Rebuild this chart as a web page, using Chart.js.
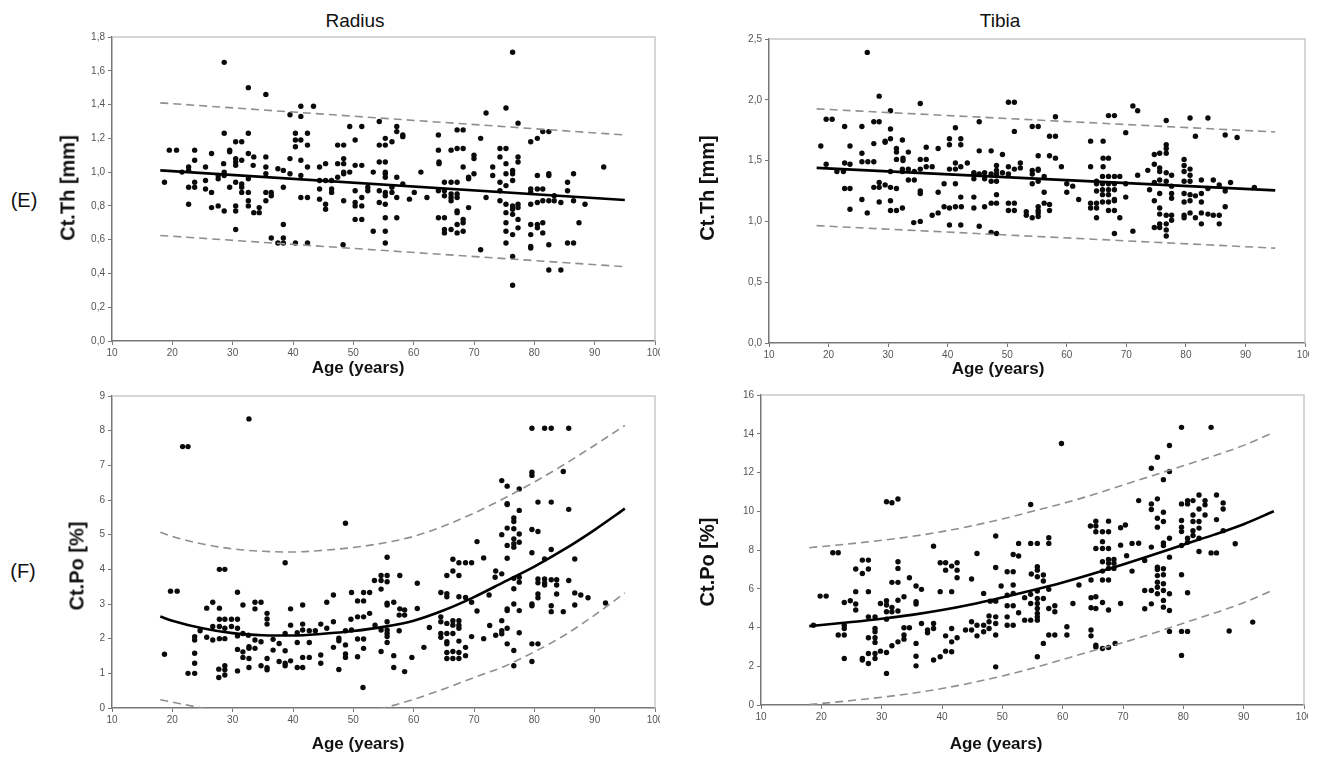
<!DOCTYPE html>
<html>
<head>
<meta charset="utf-8">
<script src="https://cdn.jsdelivr.net/npm/chart.js@4.4.0/dist/chart.umd.min.js"></script>
<style>
  html, body { margin: 0; padding: 0; background: #fff; }
  body { width: 1320px; height: 758px; position: relative; overflow: hidden;
         font-family: "Liberation Sans", Arial, sans-serif; color: #111; }
  canvas { position: absolute; }
  .lbl { position: absolute; white-space: nowrap; transform: translate(-50%, -50%); }
  .ptitle { font-size: 19px; }
  .row { font-size: 20px; }
  .xt { font-size: 17px; font-weight: bold; }
  .yt { font-size: 20px; font-weight: bold; transform: translate(-50%, -50%) rotate(-90deg); }
</style>
</head>
<body>
<div class="lbl ptitle" style="left:355px; top:21px;">Radius</div>
<div class="lbl ptitle" style="left:1000px; top:21px;">Tibia</div>
<div class="lbl row" style="left:24px; top:200px;">(E)</div>
<div class="lbl row" style="left:23px; top:571px;">(F)</div>

<canvas id="radiusTh" width="660" height="379" style="left:0; top:0;"></canvas>
<canvas id="tibiaTh" width="649" height="379" style="left:660px; top:0;"></canvas>
<canvas id="radiusPo" width="660" height="379" style="left:0; top:379px;"></canvas>
<canvas id="tibiaPo" width="648" height="379" style="left:660px; top:379px;"></canvas>

<div class="lbl yt" style="left:68px; top:188px;">Ct.Th [mm]</div>
<div class="lbl yt" style="left:707px; top:188px;">Ct.Th [mm]</div>
<div class="lbl yt" style="left:77px; top:566px;">Ct.Po [%]</div>
<div class="lbl yt" style="left:707px; top:562px;">Ct.Po [%]</div>
<div class="lbl xt" style="left:358px; top:368px;">Age (years)</div>
<div class="lbl xt" style="left:998px; top:369px;">Age (years)</div>
<div class="lbl xt" style="left:358px; top:744px;">Age (years)</div>
<div class="lbl xt" style="left:996px; top:744px;">Age (years)</div>

<script>
// ---- data: [age, value] ----
const radiusThPoints = [
  [28.6,1.65],[32.6,1.50],[35.5,1.46],[41.3,1.39],[39.5,1.34],[41.3,1.33],[28.6,1.23],[32.6,1.23],
  [19.5,1.13],[20.7,1.13],[23.7,1.13],[26.5,1.11],[29.5,1.13],[29.5,1.12],[30.5,1.18],[31.5,1.18],[32.6,1.11],[33.5,1.09],[35.5,1.09],
  [40.4,1.23],[40.4,1.19],[40.4,1.15],[41.3,1.19],
  [23.7,1.07],[28.5,1.05],[30.5,1.08],[30.5,1.06],[30.5,1.04],[31.5,1.07],[33.4,1.04],[35.5,1.03],[35.5,0.99],[39.5,1.08],[41.3,1.07],
  [37.5,1.02],[38.4,1.01],[39.5,0.99],[41.3,0.98],
  [21.6,1.00],[22.7,1.03],[22.7,1.01],[25.5,1.03],[27.6,0.98],[27.6,0.96],[28.6,1.00],[28.6,0.98],[32.6,0.96],
  [18.7,0.94],[22.7,0.91],[23.7,0.91],[23.7,0.94],[25.5,0.95],[25.5,0.90],[26.5,0.88],[29.5,0.91],[30.5,0.94],[31.5,0.93],[31.5,0.91],
  [31.5,0.88],[32.6,0.88],[35.5,0.88],[36.4,0.88],[36.4,0.86],[38.4,0.91],[41.3,0.85],
  [22.7,0.81],[26.5,0.79],[27.6,0.80],[28.6,0.77],[30.5,0.80],[30.5,0.77],[32.6,0.83],[32.6,0.80],[33.5,0.76],[34.4,0.76],[34.4,0.79],[35.5,0.83],
  [30.5,0.66],[38.4,0.69],[36.4,0.61],[37.5,0.58],[38.4,0.58],[38.4,0.61],[40.4,0.58],
  [43.4,1.39],[72.0,1.35],[54.3,1.30],[42.4,1.23],[42.4,1.16],
  [49.4,1.27],[51.4,1.27],[57.2,1.27],[57.2,1.24],[58.2,1.22],[58.2,1.21],[50.3,1.19],[55.3,1.20],[56.4,1.18],[54.3,1.16],[55.3,1.16],[47.4,1.16],[48.4,1.16],
  [64.1,1.22],[66.2,1.13],[67.2,1.14],[68.2,1.14],[67.2,1.25],[68.2,1.25],[64.1,1.13],[71.1,1.20],
  [42.4,1.03],[44.4,1.03],[45.4,1.05],[47.4,1.05],[48.4,1.08],[48.4,1.05],[48.4,1.00],[48.4,0.99],[49.4,1.00],[50.3,1.04],[51.4,1.04],
  [53.3,1.00],[54.3,1.06],[55.3,1.06],[55.3,1.00],[55.3,0.99],[55.3,0.97],[57.2,0.97],[61.2,1.00],[64.2,1.06],[64.2,1.05],[68.2,1.03],
  [70.0,1.10],[70.0,1.08],[69.1,0.96],[69.1,0.97],[70.0,0.99],[73.1,1.03],[73.1,0.98],
  [42.4,0.85],[44.4,0.95],[44.4,0.90],[44.4,0.84],[45.4,0.95],[45.4,0.81],[45.4,0.78],[46.4,0.95],[46.4,0.90],[46.4,0.88],[47.4,0.97],[48.4,0.83],
  [50.3,0.89],[50.3,0.82],[50.3,0.80],[51.4,0.85],[51.4,0.80],[50.3,0.72],[51.4,0.72],[52.4,0.91],[52.4,0.89],
  [54.3,0.89],[54.3,0.82],[55.3,0.88],[55.3,0.86],[55.3,0.81],[55.3,0.73],[55.3,0.65],[55.3,0.58],[53.3,0.65],
  [56.4,0.91],[56.4,0.88],[57.2,0.85],[58.2,0.93],[57.2,0.73],[59.3,0.84],[60.1,0.88],[62.2,0.85],
  [64.1,0.89],[65.1,0.94],[65.1,0.89],[65.1,0.86],[66.2,0.94],[66.2,0.87],[66.2,0.85],[66.2,0.83],[67.2,0.94],[67.2,0.87],[67.2,0.85],
  [64.1,0.73],[65.1,0.73],[65.1,0.66],[65.1,0.64],[66.2,0.66],[67.2,0.77],[67.2,0.76],[67.2,0.69],[68.2,0.72],[68.2,0.70],[68.2,0.65],[67.2,0.64],
  [69.1,0.79],[71.1,0.54],[72.0,0.85],[48.3,0.57],[42.4,0.58],
  [74.3,1.14],[74.3,1.09],[74.3,0.94],[74.3,0.89],[74.3,0.83],
  [75.3,1.38],[75.3,1.14],[75.3,1.05],[75.3,0.99],[75.3,0.92],[75.3,0.81],[75.3,0.76],[75.3,0.70],[75.3,0.65],[75.3,0.58],
  [76.4,1.71],[76.4,1.01],[76.4,0.99],[76.4,0.95],[76.4,0.80],[76.4,0.78],[76.4,0.75],[76.4,0.63],[76.4,0.50],[76.4,0.33],
  [77.3,1.29],[77.3,1.09],[77.3,1.06],[77.3,0.81],[77.3,0.79],[77.3,0.72],[77.3,0.67],
  [79.4,1.18],[79.4,0.90],[79.4,0.88],[79.4,0.81],[79.4,0.69],[79.4,0.63],[79.4,0.56],[79.4,0.55],
  [80.5,1.20],[80.5,0.98],[80.5,0.90],[80.5,0.82],[80.5,0.69],[80.5,0.67],
  [81.4,1.24],[81.4,0.90],[81.4,0.83],[81.4,0.70],[81.4,0.64],
  [82.4,1.24],[82.4,0.99],[82.4,0.98],[82.4,0.83],[82.4,0.57],[82.4,0.42],
  [83.3,0.86],[83.3,0.83],[84.4,0.42],[84.4,0.82],[85.5,0.94],[85.5,0.89],[85.5,0.58],
  [86.5,0.99],[86.5,0.83],[86.5,0.58],[87.4,0.70],[88.4,0.81],[91.5,1.03]
];

const tibiaThPoints = [
  [26.5,2.39],[28.5,2.03],[35.4,1.97],[30.4,1.91],[19.6,1.84],[20.6,1.84],[22.7,1.78],[25.6,1.78],[27.6,1.82],[28.5,1.82],[30.4,1.76],
  [18.7,1.62],[23.6,1.62],[27.6,1.64],[29.5,1.66],[29.5,1.65],[30.4,1.68],[32.4,1.67],[25.6,1.56],[31.4,1.60],[31.4,1.57],[33.4,1.57],[36.4,1.61],[38.4,1.60],
  [40.3,1.68],[41.3,1.77],[40.3,1.63],[42.2,1.68],[42.2,1.63],
  [19.6,1.47],[22.7,1.48],[23.6,1.47],[25.6,1.49],[26.6,1.49],[27.6,1.49],[31.4,1.51],[32.5,1.52],[32.5,1.50],[35.4,1.51],[36.4,1.51],[36.4,1.45],[37.4,1.45],[41.3,1.48],
  [21.4,1.41],[22.5,1.41],[30.4,1.41],[32.4,1.43],[32.4,1.41],[33.4,1.43],[34.4,1.41],[35.4,1.43],[40.3,1.43],[41.3,1.43],[42.2,1.45],
  [22.7,1.27],[23.6,1.27],[27.6,1.28],[28.5,1.28],[28.5,1.32],[29.5,1.30],[30.4,1.28],[31.4,1.27],[33.4,1.34],[34.4,1.34],[35.4,1.25],[35.4,1.23],[38.4,1.24],[39.4,1.31],[41.3,1.31],
  [23.6,1.10],[25.6,1.18],[26.5,1.07],[28.5,1.16],[30.4,1.17],[30.4,1.09],[31.4,1.09],[32.4,1.11],[34.3,0.99],[35.4,1.00],[37.4,1.05],[38.4,1.07],[39.4,1.12],[40.3,1.11],[41.3,1.12],
  [40.3,0.97],[42.2,0.97],[42.2,1.20],
  [50.2,1.98],[51.2,1.98],[71.1,1.95],[71.9,1.91],[67.0,1.87],[68.0,1.87],[45.3,1.82],[58.1,1.86],[51.2,1.74],[54.2,1.78],[55.2,1.78],[57.1,1.70],[58.1,1.70],[69.9,1.73],
  [64.0,1.66],[66.1,1.66],[45.3,1.58],[47.3,1.58],[49.2,1.55],[55.2,1.54],[57.1,1.54],[58.1,1.52],[64.0,1.45],[66.1,1.52],[67.0,1.52],[66.1,1.45],
  [43.3,1.48],[48.2,1.46],[48.2,1.42],[49.2,1.40],[50.2,1.45],[50.2,1.39],[51.2,1.43],[52.2,1.48],[52.2,1.44],
  [44.4,1.40],[44.4,1.39],[44.4,1.35],[45.3,1.39],[46.2,1.40],[46.2,1.35],[47.3,1.39],[47.3,1.33],[48.2,1.39],[48.2,1.33],
  [54.2,1.42],[54.2,1.39],[54.2,1.31],[55.2,1.43],[55.2,1.42],[55.2,1.33],[56.2,1.37],[59.1,1.45],[60.0,1.31],[60.0,1.24],[61.0,1.29],[62.0,1.18],
  [65.0,1.33],[65.0,1.31],[65.0,1.25],[66.0,1.37],[66.0,1.31],[66.0,1.26],[66.0,1.22],[67.0,1.37],[67.0,1.31],[67.0,1.26],[67.0,1.22],
  [68.0,1.37],[68.0,1.31],[68.0,1.26],[68.0,1.17],[68.9,1.37],[69.9,1.31],[69.9,1.20],[71.9,1.38],
  [42.3,1.12],[44.4,1.20],[44.4,1.11],[46.2,1.12],[47.3,1.15],[48.2,1.15],[48.2,1.22],[50.2,1.15],[50.2,1.09],[51.2,1.15],[51.2,1.09],[53.2,1.08],[53.2,1.05],[54.2,1.03],
  [55.2,1.12],[55.2,1.09],[55.2,1.07],[55.2,1.04],[56.2,1.24],[56.2,1.15],[57.1,1.14],[57.1,1.09],
  [64.0,1.15],[64.0,1.11],[65.0,1.15],[65.0,1.11],[65.0,1.03],[66.0,1.16],[67.0,1.16],[67.0,1.09],[68.0,1.18],[68.0,1.09],[68.9,1.03],
  [45.3,0.96],[47.3,0.91],[48.2,0.90],[68.0,0.90],[71.1,0.92],
  [73.6,1.42],[73.9,1.26],
  [74.7,1.55],[74.7,1.47],[74.7,1.32],[74.7,1.17],[74.7,0.95],
  [75.6,1.56],[75.6,1.44],[75.6,1.41],[75.6,1.34],[75.6,1.23],[75.6,1.11],[75.6,1.06],[75.6,0.98],[75.6,0.95],
  [76.7,1.83],[76.7,1.63],[76.7,1.60],[76.7,1.56],[76.7,1.40],[76.7,1.33],[76.7,1.05],[76.7,0.98],[76.7,0.93],[76.7,0.88],
  [77.6,1.38],[77.6,1.29],[77.6,1.23],[77.6,1.19],[77.6,1.05],[77.6,1.01],
  [79.7,1.51],[79.7,1.46],[79.7,1.41],[79.7,1.33],[79.7,1.23],[79.7,1.16],[79.7,1.05],[79.7,1.03],
  [80.7,1.85],[80.7,1.43],[80.7,1.38],[80.7,1.33],[80.7,1.22],[80.7,1.17],[80.7,1.07],
  [81.6,1.70],[81.6,1.21],[81.6,1.03],
  [82.6,1.34],[82.6,1.23],[82.6,1.16],[82.6,1.07],[82.6,0.98],
  [83.7,1.85],[83.7,1.27],[83.7,1.06],[84.6,1.34],[84.6,1.05],
  [85.6,1.30],[85.6,1.05],[85.6,0.98],[86.6,1.71],[86.6,1.25],[86.6,1.12],
  [87.5,1.32],[88.6,1.69],[91.5,1.28]
];

const radiusPoPoints = [
  [32.7,8.34],[21.7,7.54],[22.6,7.54],[38.7,4.19],[27.8,4.00],[28.7,4.00],[19.7,3.37],[20.8,3.37],[30.8,3.34],
  [26.7,3.05],[25.7,2.88],[27.8,2.88],[31.7,2.97],[33.7,3.05],[33.7,2.86],[34.7,3.05],[35.7,2.73],[35.7,2.57],[35.7,2.42],
  [27.8,2.56],[28.7,2.56],[29.8,2.56],[30.8,2.56],[39.6,2.86],[41.6,2.97],
  [26.7,2.35],[27.8,2.35],[28.7,2.30],[29.8,2.35],[30.8,2.30],[24.6,2.23],[39.6,2.39],[41.6,2.42],
  [25.7,2.04],[26.7,1.96],[27.8,2.00],[28.7,2.00],[23.7,2.06],[23.7,1.96],
  [30.8,2.08],[31.7,2.15],[32.6,2.10],[33.7,1.96],[34.7,1.91],[36.7,1.98],[37.7,1.86],[38.7,2.15],[40.7,2.17],[38.7,1.65],[40.7,1.89],[41.6,2.25],
  [30.8,1.69],[31.7,1.62],[32.7,1.77],[32.7,1.72],[33.7,1.72],[18.7,1.55],[23.7,1.58],[23.7,1.29],[31.7,1.46],[32.7,1.43],[35.7,1.43],
  [36.7,1.67],[37.7,1.34],[38.7,1.29],[38.7,1.22],[39.6,1.36],[41.6,1.46],[34.7,1.22],[35.7,1.16],[35.7,1.10],[40.7,1.17],[41.6,1.17],[32.7,1.17],[30.8,1.07],
  [22.6,1.00],[23.7,1.00],[27.7,1.12],[27.7,0.88],[28.7,1.22],[28.7,1.10],[28.7,0.95],
  [48.7,5.33],[70.5,4.80],[55.6,4.35],[66.5,4.29],[66.5,3.95],[65.5,3.82],[67.5,4.19],[68.6,4.19],[69.6,4.19],[71.6,4.33],[67.5,3.82],[73.6,3.95],
  [54.6,3.82],[55.6,3.82],[53.5,3.68],[54.6,3.68],[55.6,3.64],[57.7,3.82],[60.6,3.60],[54.6,3.43],
  [49.7,3.33],[51.7,3.33],[52.7,3.33],[50.7,3.09],[51.7,3.09],[46.7,3.26],[45.6,3.05],
  [64.5,3.33],[65.5,3.30],[65.5,3.21],[67.5,3.21],[68.6,3.19],[72.5,3.26],
  [55.6,3.02],[55.6,2.97],[56.7,3.05],[57.7,2.86],[58.5,2.83],[58.5,2.68],[60.6,2.87],[69.6,3.05],[70.5,2.80],
  [49.6,2.56],[50.7,2.63],[51.7,2.63],[52.7,2.73],[57.6,2.68],[57.6,2.23],[44.6,2.42],[45.6,2.30],[46.7,2.49],[48.7,2.23],[49.7,2.25],[53.6,2.39],
  [54.6,2.25],[55.6,2.25],[55.6,2.49],[55.6,2.15],[55.6,2.06],[55.6,1.89],[62.6,2.32],
  [64.5,2.63],[64.5,2.49],[65.5,2.44],[66.5,2.52],[66.5,2.39],[67.5,2.52],[67.5,2.39],[67.5,2.30],
  [64.5,2.15],[64.5,2.04],[65.5,2.15],[65.5,1.91],[66.5,2.15],[67.5,1.93],[69.6,2.06],[71.6,2.00],[73.6,2.10],
  [42.7,2.23],[42.7,1.89],[43.7,2.23],[47.6,2.01],[47.6,1.94],[48.7,1.82],[48.7,1.56],[48.7,1.46],[46.7,1.75],[50.7,1.99],[51.7,1.99],[51.7,1.72],[50.7,1.48],
  [54.6,1.63],[56.7,1.51],[56.7,1.17],[58.5,1.05],[59.7,1.46],[61.7,1.75],
  [65.5,1.85],[65.5,1.60],[66.5,1.63],[66.5,1.43],[67.5,1.60],[67.5,1.43],[68.6,1.75],[68.6,1.51],[65.5,1.43],
  [42.7,1.46],[44.6,1.53],[44.6,1.29],[47.6,1.11],[51.6,0.59],
  [72.6,2.38],[73.5,3.77],
  [74.6,6.56],[74.6,5.00],[74.6,3.87],[74.6,2.52],[74.6,2.23],[74.6,2.14],
  [75.5,6.40],[75.5,5.89],[75.5,5.87],[75.5,5.19],[75.5,4.69],[75.5,4.32],[75.5,2.86],[75.5,2.81],[75.5,2.30],[75.5,1.85],
  [76.6,5.48],[76.6,5.38],[76.6,5.17],[76.6,4.88],[76.6,4.74],[76.6,4.64],[76.6,3.74],[76.6,3.44],[76.6,3.00],[76.6,1.66],[76.6,1.22],
  [77.5,6.32],[77.5,5.70],[77.5,5.02],[77.5,4.78],[77.5,3.77],[77.5,3.63],[77.5,2.81],[77.5,2.17],
  [79.6,8.07],[79.6,6.80],[79.6,6.71],[79.6,5.15],[79.6,4.48],[79.6,3.00],[79.6,2.95],[79.6,1.85],[79.6,1.34],
  [80.6,5.94],[80.6,5.09],[80.6,3.72],[80.6,3.61],[80.6,3.29],[80.6,3.18],[80.6,1.85],
  [81.7,8.07],[81.7,4.30],[81.7,3.72],[81.7,3.61],[81.7,3.55],
  [82.8,8.07],[82.8,5.94],[82.8,4.57],[82.8,3.70],[82.8,2.95],[82.8,2.78],
  [83.7,3.70],[83.7,3.55],[83.7,3.29],[84.8,6.82],[84.8,2.78],
  [85.7,8.07],[85.7,5.73],[85.7,3.68],[86.7,4.30],[86.7,3.32],[86.7,2.97],
  [87.7,3.26],[88.9,3.18],[91.8,3.03]
];

const tibiaPoPoints = [
  [30.8,10.49],[31.7,10.44],[32.7,10.63],[38.6,8.20],[21.9,7.86],[22.8,7.86],[26.8,7.48],[27.8,7.48],[25.7,7.02],[26.8,6.79],[27.8,7.02],[32.7,7.39],[32.7,7.05],[34.6,6.57],
  [39.7,7.34],[40.6,7.34],[41.6,7.17],[42.5,7.34],[40.6,6.96],[42.5,6.96],[42.5,6.57],
  [31.7,6.33],[32.7,6.33],[35.7,6.14],[36.6,5.97],[19.8,5.62],[20.8,5.62],[25.7,5.85],[27.8,5.85],
  [23.8,5.29],[24.8,5.38],[25.7,5.21],[25.7,4.90],[29.8,5.24],[30.8,5.38],[30.8,5.16],[31.7,5.04],[32.7,5.41],[32.7,4.85],[33.7,5.59],[35.7,5.33],[35.7,5.21],
  [30.8,4.81],[31.7,4.81],[39.7,5.85],[41.6,5.85],
  [18.7,4.12],[23.8,4.12],[23.8,3.95],[27.8,4.55],[28.9,4.55],[28.9,3.95],[28.9,3.78],[30.8,4.43],[22.8,3.61],[23.8,3.61],[27.8,3.47],[28.9,3.47],[28.9,3.23],
  [33.7,3.99],[34.6,3.99],[33.7,3.61],[33.7,3.40],[36.6,4.21],[37.6,3.73],[37.6,3.87],[38.6,4.21],[38.6,3.95],
  [41.6,3.95],[40.6,3.57],[41.6,3.26],[41.6,2.75],[40.6,2.78],[42.5,3.47],[35.7,3.18],[35.7,2.52],[35.7,2.02],[23.8,2.40],
  [26.8,2.40],[26.8,2.32],[27.8,2.66],[27.8,2.14],[28.9,2.66],[28.9,2.40],[29.8,2.78],[30.8,2.71],[31.7,3.06],[32.7,3.26],[38.6,2.32],[39.7,2.49],[30.8,1.63],
  [59.8,13.50],[54.7,10.35],
  [64.6,9.24],[65.5,9.49],[65.5,9.24],[65.5,8.94],[66.6,8.94],[67.6,9.49],[67.6,8.94],[69.6,9.15],[70.4,9.29],
  [66.6,8.43],[65.5,8.08],[66.6,8.08],[67.6,8.08],[69.6,8.25],[71.5,8.34],
  [48.9,8.72],[57.7,8.63],[57.7,8.34],[54.7,8.34],[55.8,8.34],[52.7,8.34],[45.8,7.82],[51.8,7.77],[52.7,7.69],
  [48.9,7.10],[44.9,6.50],[50.8,6.88],[51.8,6.88],[55.8,7.14],[55.8,6.96],[54.8,6.76],[55.8,6.62],[56.8,6.71],[56.8,6.40],
  [66.6,7.39],[67.6,7.51],[68.5,7.51],[67.6,7.31],[68.5,7.31],[67.6,7.05],[68.5,7.05],[66.6,6.91],[66.6,6.45],[67.6,6.45],[71.5,6.91],[70.6,7.70],
  [49.8,6.14],[46.9,5.76],[51.8,6.19],[57.7,5.97],[62.7,6.19],[64.7,6.45],
  [48.0,5.36],[48.9,5.36],[50.8,5.67],[50.8,5.12],[51.8,5.12],[51.8,5.76],[53.7,5.54],
  [54.7,5.71],[54.7,5.24],[55.8,5.88],[55.8,5.50],[55.8,5.24],[55.8,4.98],[55.8,4.73],[55.8,4.55],[56.8,5.50],
  [57.7,4.98],[58.7,5.12],[58.7,4.81],[60.7,4.04],[60.7,3.61],[52.7,4.76],[61.7,5.24],
  [64.7,5.54],[64.7,5.02],[65.5,5.59],[65.5,4.98],[66.6,5.29],[67.6,4.90],[69.6,5.24],
  [44.9,3.87],[44.9,4.30],[45.8,4.12],[45.8,3.57],[46.9,4.12],[46.9,3.78],[47.8,4.60],[47.8,4.30],[47.8,3.95],[48.9,4.55],[48.9,4.21],[48.9,3.61],
  [43.9,3.87],[50.8,4.55],[50.8,4.12],[51.8,4.12],[53.7,4.38],[54.7,4.38],[55.8,4.38],
  [56.8,3.18],[57.7,3.61],[58.7,3.61],[55.8,2.49],[48.9,1.97],
  [64.7,3.87],[64.7,3.57],[65.5,3.09],[65.5,3.00],[66.6,2.92],[67.6,2.97],[68.7,3.18],
  [72.6,10.55],[72.6,8.35],[73.6,7.46],[73.6,4.97],[73.6,5.91],
  [74.7,12.22],[74.7,10.38],[74.7,10.09],[74.7,8.15],[74.7,5.91],[74.7,5.22],
  [75.7,12.79],[75.7,10.64],[75.7,9.64],[75.7,9.18],[75.7,7.11],[75.7,6.99],[75.7,6.68],[75.7,6.34],[75.7,6.08],[75.7,5.74],
  [76.7,11.63],[76.7,9.95],[76.7,9.47],[76.7,8.37],[76.7,8.23],[76.7,7.03],[76.7,6.72],[76.7,6.26],[76.7,5.91],[76.7,5.40],[76.7,5.05],
  [77.7,13.39],[77.7,12.05],[77.7,8.61],[77.7,7.63],[77.7,5.74],[77.7,4.88],[77.7,3.80],
  [79.7,14.33],[79.7,10.38],[79.7,9.52],[79.7,9.18],[79.7,8.95],[79.7,8.23],[79.7,6.72],[79.7,3.80],[79.7,2.56],
  [80.7,10.55],[80.7,10.38],[80.7,8.61],[80.7,8.40],[80.7,5.79],[80.7,3.80],
  [81.6,10.55],[81.6,9.81],[81.6,9.47],[81.6,9.00],[81.6,8.75],
  [82.6,10.84],[82.6,10.12],[82.6,9.47],[82.6,9.13],[82.6,8.61],[82.6,7.92],
  [83.6,10.55],[83.6,10.33],[83.6,9.81],[84.6,14.33],[84.6,7.85],
  [85.5,10.84],[85.5,9.57],[85.5,7.85],[86.6,10.43],[86.6,10.12],[86.6,9.00],
  [87.6,3.82],[88.6,8.32],[91.5,4.28]
];

// regression lines (straight) for Ct.Th
const lineAges = [18, 95];
const radiusThFit = [1.01, 0.835];
const radiusThUpper = [1.41, 1.22];
const radiusThLower = [0.625, 0.44];
const tibiaThFit = [1.44, 1.255];
const tibiaThUpper = [1.925, 1.735];
const tibiaThLower = [0.965, 0.78];

// curved fits for Ct.Po
const curveAges = [18, 20, 25, 30, 35, 40, 45, 50, 55, 60, 65, 70, 75, 80, 85, 90, 95];
const radiusPoFit   = [2.64, 2.52, 2.30, 2.16, 2.10, 2.09, 2.14, 2.22, 2.34, 2.52, 2.82, 3.20, 3.64, 4.08, 4.58, 5.14, 5.75];
const radiusPoUpper = [5.07, 4.95, 4.73, 4.59, 4.52, 4.50, 4.55, 4.63, 4.76, 4.95, 5.25, 5.62, 6.05, 6.52, 7.03, 7.58, 8.15];
const radiusPoLower = [0.24, 0.17, 0.00, -0.14, -0.25, -0.30, -0.28, -0.18, 0.00, 0.25, 0.55, 0.88, 1.20, 1.62, 2.10, 2.68, 3.32];
const tibiaPoFit    = [4.07, 4.13, 4.28, 4.45, 4.65, 4.90, 5.20, 5.55, 5.92, 6.32, 6.77, 7.25, 7.75, 8.27, 8.78, 9.33, 10.0];
const tibiaPoUpper  = [8.12, 8.18, 8.33, 8.50, 8.70, 8.95, 9.25, 9.60, 10.0, 10.4, 10.85, 11.35, 11.85, 12.35, 12.85, 13.4, 14.07];
const tibiaPoLower  = [0.02, 0.08, 0.23, 0.40, 0.60, 0.85, 1.15, 1.50, 1.90, 2.35, 2.80, 3.22, 3.70, 4.22, 4.73, 5.28, 5.95];

const xTicksMin = 10, xTicksMax = 100, xStep = 10;

// light grey box on top / right of each plot
const framePlugin = {
  id: "frame",
  beforeDatasetsDraw: (chart) => {
    const { ctx, chartArea: a } = chart;
    ctx.save();
    ctx.strokeStyle = "#c9c9c9";
    ctx.lineWidth = 1.5;
    ctx.beginPath();
    ctx.moveTo(a.left, a.top);
    ctx.lineTo(a.right, a.top);
    ctx.lineTo(a.right, a.bottom);
    ctx.stroke();
    ctx.restore();
  },
};

const toXY = (xs, ys) => xs.map((x, i) => ({ x: x, y: ys[i] }));

function makePanel(id, cfg) {
  const ctx = document.getElementById(id).getContext("2d");
  const dashed = { showLine: true, pointRadius: 0, borderColor: "#8f8f8f", borderWidth: 1.6,
                   borderDash: [8, 5], cubicInterpolationMode: "monotone" };
  return new Chart(ctx, {
    type: "scatter",
    data: {
      datasets: [
        { data: toXY(cfg.lineX, cfg.fit), showLine: true, pointRadius: 0, borderColor: "#000",
          borderWidth: 2.6, cubicInterpolationMode: "monotone" },
        Object.assign({ data: toXY(cfg.lineX, cfg.upper) }, dashed),
        Object.assign({ data: toXY(cfg.lineX, cfg.lower) }, dashed),
        { data: cfg.points.map((p) => ({ x: p[0], y: p[1] })), pointRadius: 2.7, pointBorderWidth: 0,
          pointBackgroundColor: "#0a0a0a", showLine: false },
      ],
    },
    options: {
      responsive: false,
      animation: false,
      events: [],
      layout: { padding: { top: cfg.padTop, right: cfg.padRight, left: 0, bottom: 0 } },
      plugins: { legend: { display: false }, tooltip: { enabled: false } },
      scales: {
        x: {
          type: "linear", min: xTicksMin, max: xTicksMax,
          ticks: { stepSize: xStep, color: "#555", font: { size: 10, family: "Liberation Sans" },
                   padding: 2, maxRotation: 0, autoSkip: false },
          grid: { drawOnChartArea: false, tickLength: 4, color: "#777" },
          border: { color: "#777", width: 1.5 },
          afterFit: (s) => { s.height = cfg.xH; s.paddingLeft = 0; s.paddingRight = 0; },
        },
        y: {
          type: "linear", min: 0, max: cfg.yMax,
          ticks: { stepSize: cfg.yStep, color: "#555", font: { size: 10, family: "Liberation Sans" },
                   padding: 3, autoSkip: false, callback: cfg.fmt },
          grid: { drawOnChartArea: false, tickLength: 4, color: "#777" },
          border: { color: "#777", width: 1.5 },
          afterFit: (s) => { s.width = cfg.yW; s.paddingTop = 0; s.paddingBottom = 0; },
        },
      },
    },
    plugins: [framePlugin],
  });
}

const commaFmt = (v) => v.toFixed(1).replace(".", ",");
const intFmt = (v) => String(Math.round(v));

makePanel("radiusTh", { points: radiusThPoints, lineX: lineAges, fit: radiusThFit, upper: radiusThUpper,
  lower: radiusThLower, yMax: 1.8, yStep: 0.2, fmt: commaFmt, yW: 112, xH: 38, padTop: 37, padRight: 5 });
makePanel("tibiaTh", { points: tibiaThPoints, lineX: lineAges, fit: tibiaThFit, upper: tibiaThUpper,
  lower: tibiaThLower, yMax: 2.5, yStep: 0.5, fmt: commaFmt, yW: 109, xH: 36, padTop: 39, padRight: 1 });
makePanel("radiusPo", { points: radiusPoPoints, lineX: curveAges, fit: radiusPoFit, upper: radiusPoUpper,
  lower: radiusPoLower, yMax: 9, yStep: 1, fmt: intFmt, yW: 112, xH: 50, padTop: 17, padRight: 5 });
makePanel("tibiaPo", { points: tibiaPoPoints, lineX: curveAges, fit: tibiaPoFit, upper: tibiaPoUpper,
  lower: tibiaPoLower, yMax: 16, yStep: 2, fmt: intFmt, yW: 101, xH: 53, padTop: 16, padRight: 4 });
</script>
</body>
</html>
